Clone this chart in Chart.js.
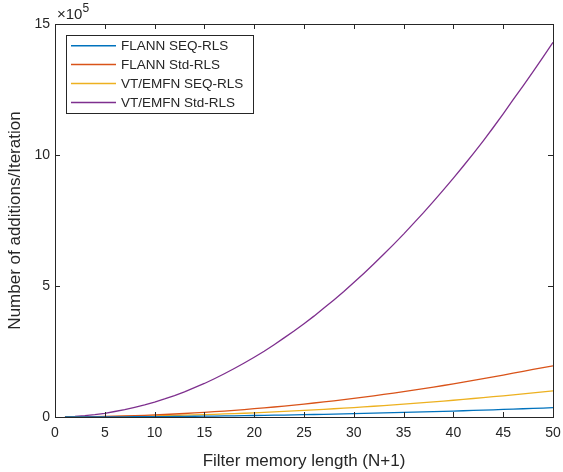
<!DOCTYPE html>
<html>
<head>
<meta charset="utf-8">
<script src="https://cdn.jsdelivr.net/npm/chart.js@4/dist/chart.umd.min.js"></script>
<style>
  html, body { margin: 0; padding: 0; background: #fff; }
  #wrap { width: 563px; height: 472px; }
</style>
</head>
<body>
<div id="wrap"><canvas id="chart" width="563" height="472"></canvas></div>
<script>
// ================= DATA =================
const memLength = [1,2,3,4,5,6,7,8,9,10,11,12,13,14,15,16,17,18,19,20,21,22,23,24,25,
  26,27,28,29,30,31,32,33,34,35,36,37,38,39,40,41,42,43,44,45,46,47,48,49,50];

// values in units of 1e5
const flannSeq = [0.000,0.001,0.001,0.002,0.004,0.005,0.007,0.009,0.012,0.014,0.017,0.020,0.024,0.028,0.032,
  0.036,0.041,0.046,0.051,0.057,0.063,0.069,0.075,0.082,0.089,0.096,0.104,0.111,0.119,0.128,
  0.136,0.145,0.155,0.164,0.174,0.184,0.194,0.205,0.216,0.227,0.239,0.250,0.263,0.275,0.288,
  0.300,0.314,0.327,0.341,0.355];
const flannStd = [0.001,0.003,0.007,0.013,0.020,0.028,0.039,0.051,0.064,0.079,0.096,0.114,0.134,0.155,0.178,
  0.202,0.228,0.256,0.285,0.316,0.348,0.382,0.418,0.455,0.494,0.534,0.576,0.619,0.664,0.711,
  0.759,0.809,0.860,0.913,0.968,1.024,1.082,1.141,1.202,1.264,1.328,1.394,1.461,1.529,1.600,
  1.672,1.745,1.815,1.885,1.955];
const vtSeq = [0.000,0.002,0.004,0.006,0.010,0.014,0.020,0.026,0.032,0.040,0.048,0.058,0.068,0.078,0.090,
  0.102,0.116,0.130,0.144,0.160,0.176,0.194,0.212,0.230,0.250,0.270,0.292,0.314,0.336,0.360,
  0.384,0.410,0.436,0.462,0.490,0.518,0.548,0.578,0.608,0.640,0.672,0.706,0.740,0.774,0.810,
  0.846,0.884,0.922,0.960,1.000];
const vtStd = [0.006,0.023,0.050,0.090,0.140,0.210,0.280,0.370,0.460,0.570,0.690,0.820,0.960,1.120,1.280,
  1.460,1.650,1.850,2.060,2.280,2.510,2.760,3.020,3.280,3.560,3.850,4.160,4.470,4.790,5.130,
  5.480,5.840,6.210,6.590,6.980,7.390,7.800,8.230,8.670,9.120,9.580,10.050,10.540,11.050,11.570,
  12.110,12.640,13.180,13.740,14.300];

const seriesNames = ["FLANN SEQ-RLS", "FLANN Std-RLS", "VT/EMFN SEQ-RLS", "VT/EMFN Std-RLS"];
const seriesColors = ["#0072BD", "#D95319", "#EDB120", "#7E2F8E"];
const xTicks = [0,5,10,15,20,25,30,35,40,45,50];
const yTicks = [0,5,10,15];

const FONT = "'Liberation Sans', Arial, Helvetica, sans-serif";
const TEXT = "#262626";

const allSeries = [flannSeq, flannStd, vtSeq, vtStd];
const datasets = allSeries.map((vals, i) => ({
  label: seriesNames[i],
  data: memLength.map((x, j) => ({ x: x, y: vals[j] })),
  borderColor: seriesColors[i],
  backgroundColor: seriesColors[i],
  borderWidth: 1.3,
  pointRadius: 0,
  tension: 0,
  fill: false
}));

// ================= PLUGIN: box, inner ticks, legend, exponent =================
const matlabAxes = {
  id: "matlabAxes",
  afterDraw(chart) {
    const ctx = chart.ctx;
    const a = chart.chartArea;
    const xs = chart.scales.x, ys = chart.scales.y;
    const tl = 5;

    ctx.save();
    ctx.strokeStyle = TEXT;
    ctx.lineWidth = 1;
    ctx.beginPath();
    xTicks.forEach(v => {
      const px = Math.round(xs.getPixelForValue(v)) + 0.5;
      ctx.moveTo(px, a.bottom); ctx.lineTo(px, a.bottom - tl);
      ctx.moveTo(px, a.top); ctx.lineTo(px, a.top + tl);
    });
    yTicks.forEach(v => {
      const py = Math.round(ys.getPixelForValue(v)) + 0.5;
      ctx.moveTo(a.left, py); ctx.lineTo(a.left + tl, py);
      ctx.moveTo(a.right, py); ctx.lineTo(a.right - tl, py);
    });
    ctx.stroke();
    ctx.strokeRect(Math.round(a.left) + 0.5, Math.round(a.top) + 0.5,
      Math.round(a.right - a.left), Math.round(a.bottom - a.top));

    // exponent label
    ctx.fillStyle = TEXT;
    ctx.textBaseline = "alphabetic";
    ctx.textAlign = "left";
    ctx.font = "15px " + FONT;
    ctx.fillText("\u00d710", a.left + 2, a.top - 5);
    const w = ctx.measureText("\u00d710").width;
    ctx.font = "12px " + FONT;
    ctx.fillText("5", a.left + 2 + w, a.top - 12);

    // legend
    const lx = 66, ly = 35, lw = 187, lh = 78;
    ctx.fillStyle = "#fff";
    ctx.fillRect(lx, ly, lw, lh);
    ctx.strokeStyle = TEXT;
    ctx.lineWidth = 1;
    ctx.strokeRect(lx + 0.5, ly + 0.5, lw, lh);
    ctx.font = "13.5px " + FONT;
    ctx.textBaseline = "middle";
    seriesNames.forEach((name, i) => {
      const y = ly + 10.7 + i * 18.9;
      ctx.strokeStyle = seriesColors[i];
      ctx.lineWidth = 1.5;
      ctx.beginPath();
      ctx.moveTo(lx + 5, y);
      ctx.lineTo(lx + 50, y);
      ctx.stroke();
      ctx.fillStyle = TEXT;
      ctx.fillText(name, lx + 55, y + 0.5);
    });
    ctx.restore();
  }
};

// ================= CHART =================
new Chart(document.getElementById("chart"), {
  type: "line",
  data: { datasets: datasets },
  options: {
    responsive: false,
    animation: false,
    layout: { padding: { top: 24, right: 10, left: 0, bottom: 0 } },
    plugins: { legend: { display: false }, tooltip: { enabled: false } },
    scales: {
      x: {
        type: "linear",
        min: 0, max: 50,
        afterBuildTicks: s => { s.ticks = xTicks.map(v => ({ value: v })); },
        afterFit: s => { s.height = 55; s.paddingLeft = 0; s.paddingRight = 0; },
        grid: { display: false, drawTicks: false },
        border: { display: false },
        ticks: { color: TEXT, font: { family: FONT, size: 14 }, padding: 8, maxRotation: 0 },
        title: { display: true, text: "Filter memory length (N+1)", color: TEXT,
                 font: { family: FONT, size: 17 }, padding: { top: 3, bottom: 0 } }
      },
      y: {
        type: "linear",
        min: 0, max: 15,
        afterBuildTicks: s => { s.ticks = yTicks.map(v => ({ value: v })); },
        afterFit: s => { s.width = 55; s.paddingTop = 0; s.paddingBottom = 0; },
        grid: { display: false, drawTicks: false },
        border: { display: false },
        ticks: { color: TEXT, font: { family: FONT, size: 14 }, padding: 5 },
        title: { display: true, text: "Number of additions/Iteration", color: TEXT,
                 font: { family: FONT, size: 17 }, padding: { top: 5, bottom: 0 } }
      }
    }
  },
  plugins: [matlabAxes]
});
</script>
</body>
</html>
